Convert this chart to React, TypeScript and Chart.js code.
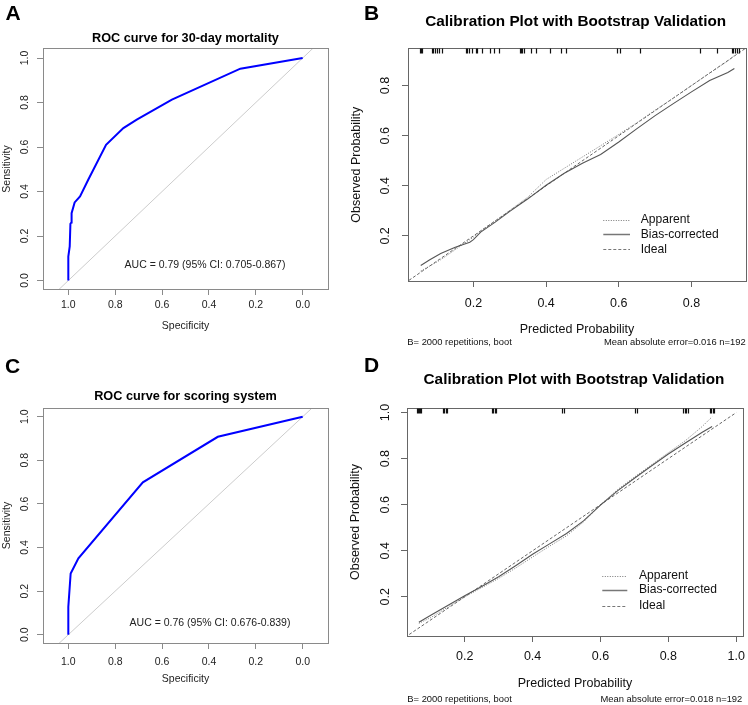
import React, { useEffect, useRef } from 'react';
import { Chart, registerables } from 'chart.js';

Chart.register(...registerables);

const FONT = '"Liberation Sans", Arial, Helvetica, sans-serif';

// ---------- Data ----------
// Panel A: ROC curve for 30-day mortality
const rocASpecificity = [1.0, 1.0, 0.994, 0.991, 0.987, 0.986, 0.973, 0.95, 0.915, 0.839, 0.765, 0.708, 0.558, 0.266, 0.0];
const rocASensitivity = [0.0, 0.108, 0.153, 0.255, 0.261, 0.303, 0.351, 0.378, 0.453, 0.61, 0.685, 0.723, 0.813, 0.952, 1.0];

// Panel C: ROC curve for scoring system
const rocCSpecificity = [1.0, 1.0, 0.99, 0.957, 0.682, 0.362, 0.0];
const rocCSensitivity = [0.0, 0.128, 0.281, 0.35, 0.699, 0.908, 1.0];

// Chance diagonal for ROC plots (specificity, sensitivity)
const rocDiagSpec = [1.3, -0.3];
const rocDiagSens = [-0.3, 1.3];

const rocTicks = [0.0, 0.2, 0.4, 0.6, 0.8, 1.0];

// Panel B: calibration (30-day mortality model)
const calBPredicted = [0.055, 0.08, 0.11, 0.15, 0.19, 0.2, 0.22, 0.26, 0.3, 0.35, 0.4, 0.45, 0.5, 0.55, 0.6, 0.65, 0.7, 0.75, 0.8, 0.85, 0.9, 0.918];
const calBApparent = [0.06, 0.08, 0.105, 0.145, 0.185, 0.195, 0.22, 0.26, 0.302, 0.355, 0.425, 0.47, 0.515, 0.56, 0.605, 0.652, 0.702, 0.75, 0.8, 0.85, 0.898, 0.92];
const calBBiasCorrected = [0.082, 0.105, 0.13, 0.155, 0.175, 0.185, 0.215, 0.255, 0.298, 0.348, 0.402, 0.45, 0.49, 0.525, 0.575, 0.628, 0.68, 0.728, 0.775, 0.82, 0.852, 0.868];
const calBRug = [0.053, 0.055, 0.057, 0.059, 0.085, 0.09, 0.095, 0.1, 0.105, 0.113, 0.179, 0.183, 0.188, 0.195, 0.206, 0.21, 0.223, 0.245, 0.256, 0.27, 0.327, 0.331, 0.335, 0.339, 0.358, 0.372, 0.41, 0.44, 0.455, 0.594, 0.603, 0.658, 0.824, 0.87, 0.911, 0.915, 0.92, 0.925, 0.93];
const calBTicks = [0.2, 0.4, 0.6, 0.8];

// Panel D: calibration (scoring system)
const calDPredicted = [0.065, 0.1, 0.15, 0.2, 0.25, 0.3, 0.35, 0.4, 0.45, 0.5, 0.55, 0.6, 0.65, 0.7, 0.75, 0.8, 0.85, 0.9, 0.929];
const calDApparent = [0.085, 0.11, 0.155, 0.2, 0.24, 0.28, 0.325, 0.373, 0.42, 0.465, 0.525, 0.6, 0.665, 0.72, 0.773, 0.826, 0.878, 0.94, 0.982];
const calDBiasCorrected = [0.09, 0.12, 0.162, 0.205, 0.245, 0.287, 0.335, 0.385, 0.43, 0.475, 0.53, 0.598, 0.66, 0.715, 0.768, 0.82, 0.868, 0.915, 0.94];
const calDRug = [0.06, 0.063, 0.066, 0.069, 0.072, 0.136, 0.14, 0.144, 0.148, 0.28, 0.284, 0.288, 0.292, 0.486, 0.492, 0.701, 0.707, 0.843, 0.848, 0.852, 0.857, 0.923, 0.927, 0.932, 0.936];
const calDTicks = [0.2, 0.4, 0.6, 0.8, 1.0];

// Ideal line for calibration plots
const idealLine = [0, 1];

const legendLabels = ['Apparent', 'Bias-corrected', 'Ideal'];

// ---------- Helpers ----------
const pts = (xs: number[], ys: number[]) => xs.map((x, i) => ({ x, y: ys[i] }));

type Txt = { text: string; x: number; y: number; size: number; bold?: boolean; align?: CanvasTextAlign; rot?: boolean; color?: string };

type PanelCfg = {
  key: string;
  canvas: { left: number; top: number; width: number; height: number };
  box: { l: number; r: number; t: number; b: number };
  x: { min: number; max: number; reverse: boolean; ticks: number[] };
  y: { min: number; max: number; ticks: number[] };
  boxColor: string;
  tickColor: string;
  tickSize: number;
  xLabelY: number;
  yLabelX: number;
  texts: Txt[];
  datasets: any[];
  rug?: number[];
  legend?: { x1: number; x2: number; tx: number; rows: number[]; dashes: number[][]; size: number };
};

function makePlugin(cfg: PanelCfg) {
  return {
    id: 'decor_' + cfg.key,
    afterDraw(chart: any) {
      const ctx: CanvasRenderingContext2D = chart.ctx;
      const ox = cfg.canvas.left;
      const oy = cfg.canvas.top;
      const xs = chart.scales.x;
      const ys = chart.scales.y;
      const a = chart.chartArea;
      ctx.save();
      // box
      ctx.strokeStyle = cfg.boxColor;
      ctx.lineWidth = 1;
      ctx.setLineDash([]);
      const L = Math.round(a.left) + 0.5, T = Math.round(a.top) + 0.5;
      const R = Math.round(a.right) + 0.5, B = Math.round(a.bottom) + 0.5;
      ctx.strokeRect(L, T, R - L, B - T);

      // rug at the top
      if (cfg.rug) {
        ctx.strokeStyle = '#111';
        ctx.lineWidth = 1.2;
        ctx.beginPath();
        cfg.rug.forEach((v) => {
          const px = Math.round(xs.getPixelForValue(v)) + 0.5;
          ctx.moveTo(px, T);
          ctx.lineTo(px, T + 5);
        });
        ctx.stroke();
      }

      // tick labels
      ctx.fillStyle = cfg.tickColor;
      ctx.font = `${cfg.tickSize}px ${FONT}`;
      ctx.textAlign = 'center';
      ctx.textBaseline = 'middle';
      cfg.x.ticks.forEach((v) => {
        ctx.fillText(v.toFixed(1), xs.getPixelForValue(v), cfg.xLabelY - oy);
      });
      cfg.y.ticks.forEach((v) => {
        ctx.save();
        ctx.translate(cfg.yLabelX - ox, ys.getPixelForValue(v));
        ctx.rotate(-Math.PI / 2);
        ctx.fillText(v.toFixed(1), 0, 0);
        ctx.restore();
      });

      // texts
      cfg.texts.forEach((t) => {
        ctx.save();
        ctx.fillStyle = t.color || '#000';
        ctx.font = `${t.bold ? 'bold ' : ''}${t.size}px ${FONT}`;
        ctx.textAlign = t.align || 'center';
        ctx.textBaseline = 'middle';
        ctx.translate(t.x - ox, t.y - oy);
        if (t.rot) ctx.rotate(-Math.PI / 2);
        ctx.fillText(t.text, 0, 0);
        ctx.restore();
      });

      // legend
      if (cfg.legend) {
        const lg = cfg.legend;
        lg.rows.forEach((ry, i) => {
          ctx.save();
          ctx.strokeStyle = '#777';
          ctx.lineWidth = i === 1 ? 1.5 : 1;
          ctx.setLineDash(lg.dashes[i]);
          ctx.beginPath();
          ctx.moveTo(lg.x1 - ox, Math.round(ry - oy) + 0.5);
          ctx.lineTo(lg.x2 - ox, Math.round(ry - oy) + 0.5);
          ctx.stroke();
          ctx.restore();
          ctx.fillStyle = '#111';
          ctx.font = `${lg.size}px ${FONT}`;
          ctx.textAlign = 'left';
          ctx.textBaseline = 'middle';
          ctx.fillText(legendLabels[i], lg.tx - ox, ry - oy);
        });
      }
      ctx.restore();
    },
  };
}

function PanelChart({ cfg }: { cfg: PanelCfg }) {
  const ref = useRef<HTMLCanvasElement>(null);
  useEffect(() => {
    const c = cfg.canvas;
    const bx = cfg.box;
    const chart = new Chart(ref.current as HTMLCanvasElement, {
      type: 'scatter',
      data: { datasets: cfg.datasets },
      options: {
        animation: false,
        responsive: false,
        maintainAspectRatio: false,
        events: [],
        layout: {
          padding: { top: bx.t - c.top, left: 0, right: c.left + c.width - bx.r, bottom: 0 },
        },
        plugins: {
          legend: { display: false },
          title: { display: false },
          tooltip: { enabled: false },
        },
        elements: { point: { radius: 0 }, line: { tension: 0 } },
        scales: {
          x: {
            type: 'linear',
            position: 'bottom',
            min: cfg.x.min,
            max: cfg.x.max,
            reverse: cfg.x.reverse,
            afterBuildTicks: (s: any) => {
              s.ticks = cfg.x.ticks.map((v) => ({ value: v }));
            },
            afterFit: (s: any) => {
              s.height = c.top + c.height - bx.b;
            },
            ticks: { display: false },
            grid: { drawOnChartArea: false, drawTicks: true, tickLength: 6, color: cfg.boxColor, lineWidth: 1 },
            border: { display: true, color: cfg.boxColor },
          },
          y: {
            type: 'linear',
            position: 'left',
            min: cfg.y.min,
            max: cfg.y.max,
            afterBuildTicks: (s: any) => {
              s.ticks = cfg.y.ticks.map((v) => ({ value: v }));
            },
            afterFit: (s: any) => {
              s.width = bx.l - c.left;
            },
            ticks: { display: false },
            grid: { drawOnChartArea: false, drawTicks: true, tickLength: 6, color: cfg.boxColor, lineWidth: 1 },
            border: { display: true, color: cfg.boxColor },
          },
        },
      } as any,
      plugins: [makePlugin(cfg)],
    });
    return () => chart.destroy();
  }, [cfg]);
  const c = cfg.canvas;
  return (
    <canvas
      ref={ref}
      width={c.width}
      height={c.height}
      style={{ position: 'absolute', left: c.left, top: c.top, width: c.width, height: c.height }}
    />
  );
}

// ---------- Panel configs ----------
const rocDatasets = (spec: number[], sens: number[]) => [
  { data: pts(spec, sens), showLine: true, borderColor: '#0000ff', borderWidth: 2, pointRadius: 0, fill: false },
  { data: pts(rocDiagSpec, rocDiagSens), showLine: true, borderColor: '#cccccc', borderWidth: 1, pointRadius: 0, fill: false },
];

const calDatasets = (xs: number[], app: number[], bc: number[]) => [
  { data: pts(xs, bc), showLine: true, borderColor: '#555', borderWidth: 1.1, pointRadius: 0, fill: false },
  { data: pts(xs, app), showLine: true, borderColor: '#777', borderWidth: 1, borderDash: [1, 1.5], pointRadius: 0, fill: false },
  { data: pts(idealLine, idealLine), showLine: true, borderColor: '#666', borderWidth: 1, borderDash: [3, 2], pointRadius: 0, fill: false },
];

const legendDashes = [[1, 1.5], [], [3, 2]];

const panelA: PanelCfg = {
  key: 'A',
  canvas: { left: 0, top: 0, width: 345, height: 340 },
  box: { l: 43, r: 328, t: 48, b: 289 },
  x: { min: -0.108, max: 1.108, reverse: true, ticks: rocTicks },
  y: { min: -0.038, max: 1.045, ticks: rocTicks },
  boxColor: '#8a8a8a',
  tickColor: '#222',
  tickSize: 10.5,
  xLabelY: 305,
  yLabelX: 25,
  texts: [
    { text: 'ROC curve for 30-day mortality', x: 185.5, y: 38, size: 12.7, bold: true },
    { text: 'Specificity', x: 185.5, y: 326, size: 10.5, color: '#222' },
    { text: 'Sensitivity', x: 7, y: 169, size: 10.5, rot: true, color: '#222' },
    { text: 'AUC = 0.79 (95% CI: 0.705-0.867)', x: 205, y: 265, size: 10.5, color: '#222' },
  ],
  datasets: rocDatasets(rocASpecificity, rocASensitivity),
};

const panelC: PanelCfg = {
  key: 'C',
  canvas: { left: 0, top: 340, width: 345, height: 365 },
  box: { l: 43, r: 328, t: 408, b: 643 },
  x: { min: -0.108, max: 1.108, reverse: true, ticks: rocTicks },
  y: { min: -0.038, max: 1.04, ticks: rocTicks },
  boxColor: '#8a8a8a',
  tickColor: '#222',
  tickSize: 10.5,
  xLabelY: 661.7,
  yLabelX: 25,
  texts: [
    { text: 'ROC curve for scoring system', x: 185.5, y: 396.7, size: 12.7, bold: true },
    { text: 'Specificity', x: 185.5, y: 679.3, size: 10.5, color: '#222' },
    { text: 'Sensitivity', x: 7, y: 525.5, size: 10.5, rot: true, color: '#222' },
    { text: 'AUC = 0.76 (95% CI: 0.676-0.839)', x: 210, y: 622.7, size: 10.5, color: '#222' },
  ],
  datasets: rocDatasets(rocCSpecificity, rocCSensitivity),
};

const panelB: PanelCfg = {
  key: 'B',
  canvas: { left: 345, top: 0, width: 403, height: 350 },
  box: { l: 408, r: 746, t: 48, b: 281 },
  x: { min: 0.02, max: 0.95, reverse: false, ticks: calBTicks },
  y: { min: 0.02, max: 0.95, ticks: calBTicks },
  boxColor: '#666',
  tickColor: '#111',
  tickSize: 12.5,
  xLabelY: 303.3,
  yLabelX: 385.7,
  texts: [
    { text: 'Calibration Plot with Bootstrap Validation', x: 575.7, y: 21.7, size: 15.3, bold: true },
    { text: 'Predicted Probability', x: 577, y: 330, size: 12.5, color: '#111' },
    { text: 'Observed Probability', x: 356.7, y: 164.7, size: 12.5, rot: true, color: '#111' },
    { text: 'B= 2000 repetitions, boot', x: 407.3, y: 342.3, size: 9.4, align: 'left', color: '#111' },
    { text: 'Mean absolute error=0.016 n=192', x: 745.7, y: 342.3, size: 9.4, align: 'right', color: '#111' },
  ],
  datasets: calDatasets(calBPredicted, calBApparent, calBBiasCorrected),
  rug: calBRug,
  legend: { x1: 603.3, x2: 630, tx: 640.7, rows: [220, 234.3, 249.3], dashes: legendDashes, size: 12.1 },
};

const panelD: PanelCfg = {
  key: 'D',
  canvas: { left: 345, top: 350, width: 403, height: 355 },
  box: { l: 407, r: 743, t: 408, b: 636 },
  x: { min: 0.03, max: 1.02, reverse: false, ticks: calDTicks },
  y: { min: 0.03, max: 1.02, ticks: calDTicks },
  boxColor: '#666',
  tickColor: '#111',
  tickSize: 12.5,
  xLabelY: 656.7,
  yLabelX: 385.7,
  texts: [
    { text: 'Calibration Plot with Bootstrap Validation', x: 574, y: 380, size: 15.3, bold: true },
    { text: 'Predicted Probability', x: 575, y: 683.3, size: 12.5, color: '#111' },
    { text: 'Observed Probability', x: 356, y: 522, size: 12.5, rot: true, color: '#111' },
    { text: 'B= 2000 repetitions, boot', x: 407.3, y: 699.3, size: 9.4, align: 'left', color: '#111' },
    { text: 'Mean absolute error=0.018 n=192', x: 742.3, y: 699.3, size: 9.4, align: 'right', color: '#111' },
  ],
  datasets: calDatasets(calDPredicted, calDApparent, calDBiasCorrected),
  rug: calDRug,
  legend: { x1: 602.3, x2: 627.3, tx: 639, rows: [575.7, 590, 605.7], dashes: legendDashes, size: 12.1 },
};

const panels = [panelA, panelB, panelC, panelD];

const letters = [
  { text: 'A', left: 5.5, top: 2.3 },
  { text: 'B', left: 364, top: 2.3 },
  { text: 'C', left: 5, top: 355.3 },
  { text: 'D', left: 364, top: 353.5 },
];

export default function App() {
  return (
    <div style={{ position: 'absolute', left: 0, top: 0, width: 748, height: 705, background: '#fff', overflow: 'hidden' }}>
      {panels.map((p) => (
        <PanelChart key={p.key} cfg={p} />
      ))}
      {letters.map((l) => (
        <div
          key={l.text}
          style={{
            position: 'absolute',
            left: l.left,
            top: l.top,
            fontFamily: FONT,
            fontWeight: 'bold',
            fontSize: 21,
            lineHeight: '21px',
            color: '#000',
          }}
        >
          {l.text}
        </div>
      ))}
    </div>
  );
}
